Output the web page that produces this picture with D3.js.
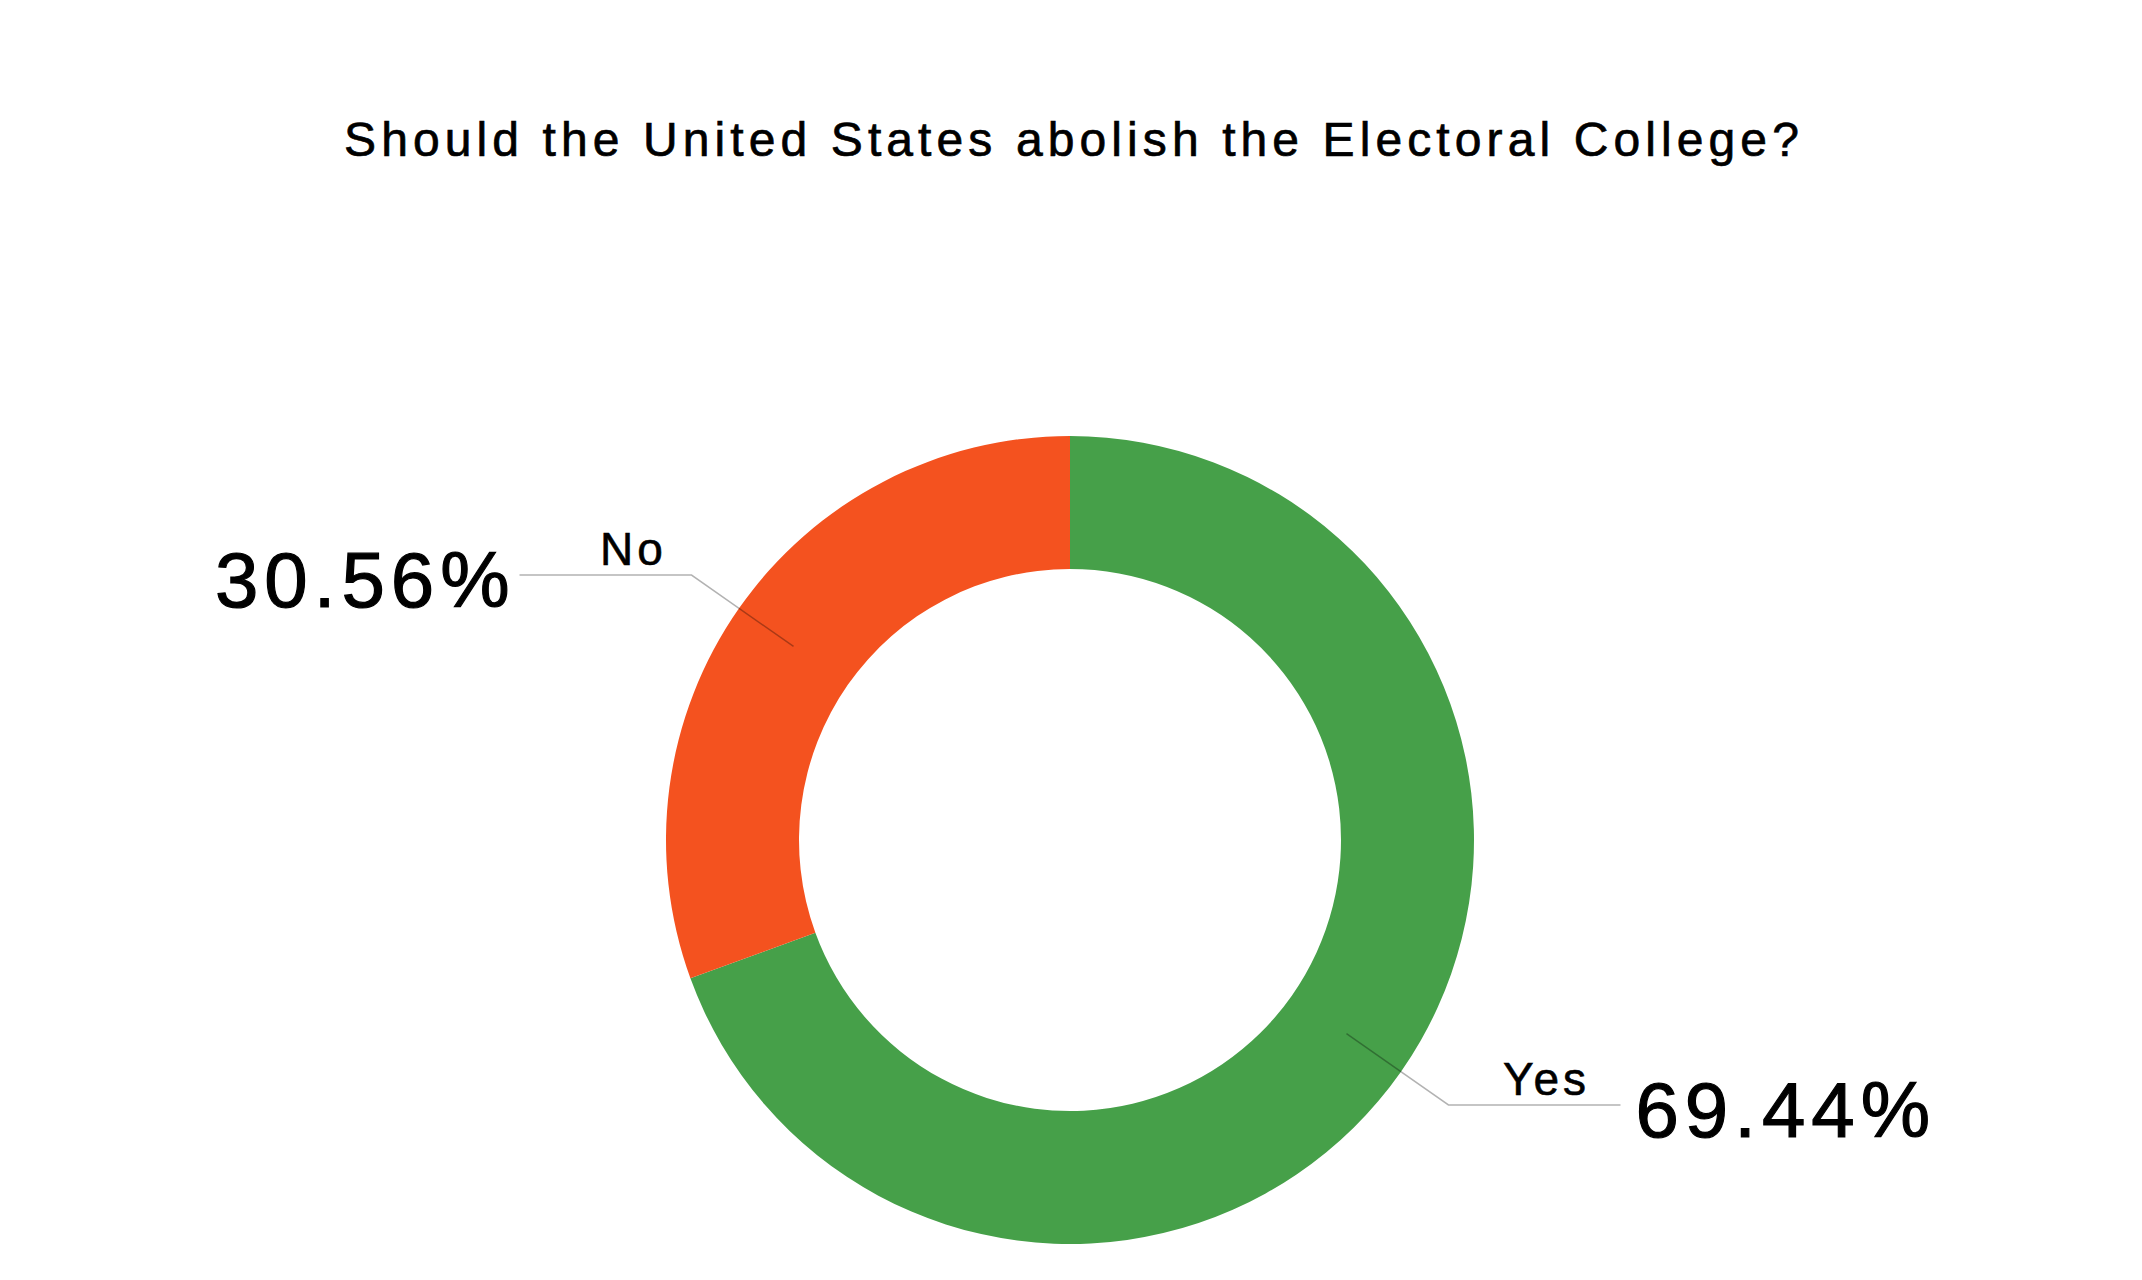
<!DOCTYPE html>
<html>
<head>
<meta charset="utf-8">
<script src="https://cdn.jsdelivr.net/npm/d3@7"></script>
<style>
  html, body { margin: 0; padding: 0; background: #fff; }
  svg { display: block; }
  text { font-family: "Liberation Sans", Arial, sans-serif; fill: #000; stroke: #000; }
</style>
</head>
<body>
<svg id="chart" width="2142" height="1280"></svg>
<script>
const title = "Should the United States abolish the Electoral College?";
const categories = ["Yes", "No"];
const values = [69.44, 30.56];
const colors = ["#46A049", "#F4521F"];

const W = 2142, H = 1280;
const cx = 1070, cy = 840;
const outerR = 404, innerR = 271;

const svg = d3.select("#chart");

svg.append("text")
  .attr("x", 1074)
  .attr("y", 156)
  .attr("text-anchor", "middle")
  .attr("font-size", 48)
  .attr("letter-spacing", 5.1)
  .attr("stroke-width", 0.7)
  .text(title);

const data = categories.map((c, i) => ({ label: c, value: values[i], color: colors[i] }));

const pie = d3.pie().sort(null).value(d => d.value);
const arcs = pie(data);
const arc = d3.arc().innerRadius(innerR).outerRadius(outerR);

const g = svg.append("g").attr("transform", `translate(${cx},${cy})`);

g.selectAll("path.slice")
  .data(arcs)
  .join("path")
  .attr("class", "slice")
  .attr("d", arc)
  .attr("fill", d => d.data.color)
  .attr("stroke", "none");

const midR = (innerR + outerR) / 2;
const elbowR = 462;
const segLen = 172;

arcs.forEach(a => {
  const m = (a.startAngle + a.endAngle) / 2;
  const sx = Math.sin(m), sy = -Math.cos(m);
  const side = sx >= 0 ? 1 : -1;
  const p0 = [midR * sx, midR * sy];
  const p1 = [elbowR * sx, elbowR * sy];
  const p2 = [p1[0] + side * segLen, p1[1]];
  g.append("polyline")
    .attr("points", [p0, p1, p2].map(p => p.join(",")).join(" "))
    .attr("fill", "none")
    .attr("stroke", "#000")
    .attr("stroke-opacity", 0.3)
    .attr("stroke-width", 1.5);

  // category label above segment
  const lx = side > 0 ? p1[0] + 98 : p1[0] - 58;
  g.append("text")
    .attr("x", lx)
    .attr("y", p1[1] - 10)
    .attr("text-anchor", "middle")
    .attr("font-size", 46)
    .attr("letter-spacing", 4)
    .attr("stroke-width", 0.6)
    .text(a.data.label);

  // percentage
  g.append("text")
    .attr("x", p2[0] + (side > 0 ? 15 : -4))
    .attr("y", p1[1] + 32)
    .attr("text-anchor", side > 0 ? "start" : "end")
    .attr("font-size", 78)
    .attr("letter-spacing", 6)
    .attr("stroke-width", 1.2)
    .text(a.data.value.toFixed(2) + "%");
});
</script>
</body>
</html>
